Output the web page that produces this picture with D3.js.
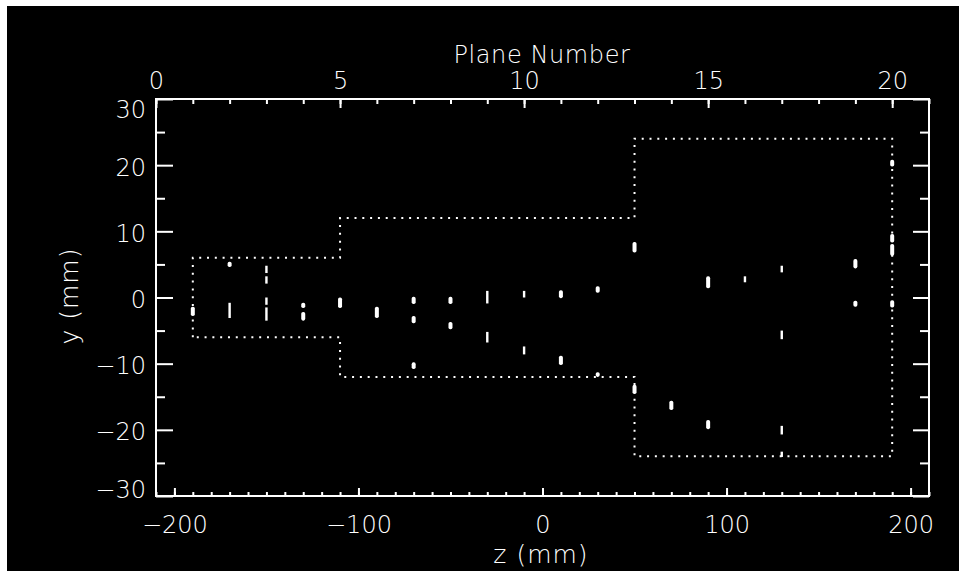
<!DOCTYPE html>
<html>
<head>
<meta charset="utf-8">
<script src="https://cdn.jsdelivr.net/npm/d3@7"></script>
<style>
  body { margin: 0; background: #fff; }
  text { font-family: "DejaVu Sans", sans-serif; font-weight: 200; fill: #fff; }
</style>
</head>
<body>
<div id="chart"></div>
<script>
// axis ticks
const zTicks = [-200, -100, 0, 100, 200];
const planeTicks = [0, 5, 10, 15, 20];
const yTicks = [-30, -20, -10, 0, 10, 20, 30];

// acceptance outline (z, y) in mm
const acceptance = [
  [-190, -6], [-190, 6], [-110, 6], [-110, 12], [50, 12], [50, 24],
  [190, 24], [190, -24], [50, -24], [50, -12], [-110, -12], [-110, -6], [-190, -6]
];

// hits: [z, yLow, yHigh] in mm
const wideHits = [
  [-190, -2.8, -1.4],
  [-170, 4.6, 5.4],
  [-130, -1.6, -0.8], [-130, -3.5, -2.2],
  [-110, -1.6, 0.0],
  [-90, -3.1, -1.4],
  [-70, -1.0, 0.1], [-70, -3.9, -2.8], [-70, -10.8, -9.8],
  [-50, -1.0, 0.1], [-50, -4.8, -3.7],
  [10, -0.1, 1.1], [10, -10.2, -8.8],
  [30, 0.7, 1.7], [30, -12.0, -11.3],
  [50, 6.8, 8.4], [50, -14.6, -13.2],
  [70, -17.0, -15.6],
  [90, 1.4, 3.2], [90, -19.9, -18.5],
  [170, 4.4, 5.8], [170, -1.4, -0.5],
  [190, 19.8, 20.8], [190, 8.3, 9.6], [190, 6.3, 8.1], [190, -1.5, -0.4]
];
const narrowHits = [
  [-170, -3.1, -0.8],
  [-150, 3.7, 4.8], [-150, 2.1, 3.2], [-150, -1.1, 0.0], [-150, -3.5, -1.5],
  [-30, -0.9, 1.0], [-30, -6.8, -5.2],
  [-10, 0.0, 1.0], [-10, -8.6, -7.4],
  [110, 2.3, 3.2],
  [130, 3.8, 4.8], [130, -6.3, -5.0], [130, -20.7, -19.4], [130, -24.1, -23.3]
];

const W = 959, H = 571;
const plot = {left: 156, right: 929, top: 99, bottom: 496};

const svg = d3.select("#chart").append("svg")
    .attr("width", W).attr("height", H);

svg.append("rect").attr("x", 7).attr("y", 6)
    .attr("width", W - 7).attr("height", H - 6).attr("fill", "#000");

const x = d3.scaleLinear().domain([-210, 210]).range([plot.left, plot.right]);
const xp = d3.scaleLinear().domain([0, 21]).range([plot.left, plot.right]);
const y = d3.scaleLinear().domain([-30, 30]).range([plot.bottom, plot.top]);

const fmt = d => d < 0 ? "\u2212" + Math.abs(d) : String(d);

function styleAxis(g) {
  g.select(".domain").remove();
  g.selectAll("line").attr("stroke", "#fff").attr("stroke-width", 2);
  g.selectAll("text").attr("fill", "#fff").style("font-size", "24px")
    .style("font-family", "DejaVu Sans, sans-serif").style("font-weight", 200);
}

// bottom axis z (mm)
svg.append("g").attr("transform", `translate(0,${plot.bottom})`)
    .call(d3.axisBottom(x).tickValues(d3.range(-210, 211, 10)).tickSize(-4).tickFormat(""))
    .call(styleAxis);
svg.append("g").attr("transform", `translate(0,${plot.bottom})`)
    .call(d3.axisBottom(x).tickValues(zTicks).tickSize(-8).tickPadding(20).tickFormat(fmt))
    .call(styleAxis);

// top axis plane number
svg.append("g").attr("transform", `translate(0,${plot.top})`)
    .call(d3.axisTop(xp).tickValues(d3.range(0, 22)).tickSize(-5).tickFormat(""))
    .call(styleAxis);
svg.append("g").attr("transform", `translate(0,${plot.top})`)
    .call(d3.axisTop(xp).tickValues(planeTicks).tickSize(-9).tickPadding(10))
    .call(styleAxis);

// left axis y (mm)
svg.append("g").attr("transform", `translate(${plot.left},0)`)
    .call(d3.axisLeft(y).tickValues(d3.range(-25, 26, 10)).tickSize(-9).tickFormat(""))
    .call(styleAxis);
const yAxis = svg.append("g").attr("transform", `translate(${plot.left},0)`)
    .call(d3.axisLeft(y).tickValues(yTicks).tickSize(-17).tickPadding(10).tickFormat(fmt))
    .call(styleAxis);
yAxis.selectAll("text").attr("dy", d => d === 30 ? "0.79em" : d === -30 ? "0.08em" : "0.42em");

// right axis, ticks only
svg.append("g").attr("transform", `translate(${plot.right},0)`)
    .call(d3.axisRight(y).tickValues(d3.range(-25, 26, 10)).tickSize(-9).tickFormat(""))
    .call(styleAxis);
svg.append("g").attr("transform", `translate(${plot.right},0)`)
    .call(d3.axisRight(y).tickValues(yTicks).tickSize(-16).tickFormat(""))
    .call(styleAxis);

// frame
svg.append("rect").attr("x", plot.left).attr("y", plot.top)
    .attr("width", plot.right - plot.left).attr("height", plot.bottom - plot.top)
    .attr("fill", "none").attr("stroke", "#fff").attr("stroke-width", 2);

// titles
svg.append("text").attr("x", 542).attr("y", 63).attr("text-anchor", "middle")
    .style("font-size", "24px").attr("letter-spacing", 0.6).text("Plane Number");
svg.append("text").attr("x", 541).attr("y", 563).attr("text-anchor", "middle")
    .style("font-size", "25px").attr("letter-spacing", 1).text("z (mm)");
svg.append("text").attr("transform", "translate(78,296) rotate(-90)")
    .attr("text-anchor", "middle").style("font-size", "25px").attr("letter-spacing", 1)
    .text("y (mm)");

// acceptance outline, dotted
svg.append("path").datum(acceptance)
    .attr("d", d3.line().x(d => x(d[0])).y(d => y(d[1])))
    .attr("fill", "none").attr("stroke", "#fff").attr("stroke-width", 2)
    .attr("stroke-dasharray", "2,5.8");

// hits
svg.append("g").selectAll("rect").data(wideHits).join("rect")
    .attr("x", d => x(d[0]) - 2).attr("width", 4)
    .attr("y", d => y(d[2])).attr("height", d => y(d[1]) - y(d[2]))
    .attr("rx", 1.8).attr("fill", "#fff");
svg.append("g").selectAll("rect").data(narrowHits).join("rect")
    .attr("x", d => x(d[0]) - 1.2).attr("width", 2.4)
    .attr("y", d => y(d[2])).attr("height", d => y(d[1]) - y(d[2]))
    .attr("fill", "#fff");
</script>
</body>
</html>
